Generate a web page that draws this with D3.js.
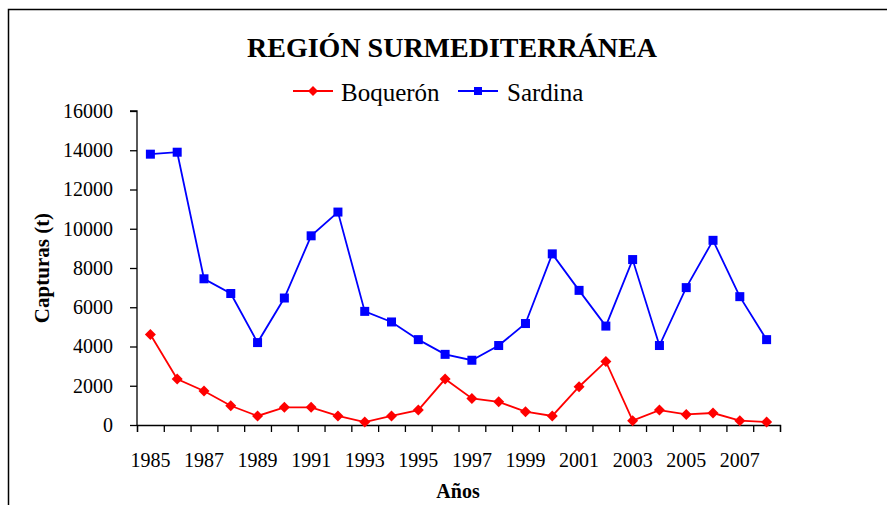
<!DOCTYPE html>
<html>
<head>
<meta charset="utf-8">
<script src="https://cdn.jsdelivr.net/npm/d3@7"></script>
<style>
  html, body { margin: 0; padding: 0; background: #fff; }
  svg { display: block; }
  text { font-family: "Liberation Serif", "Times New Roman", serif; fill: #000; }
</style>
</head>
<body>
<svg id="chart" width="887" height="505"></svg>
<script>
const years = [1985, 1986, 1987, 1988, 1989, 1990, 1991, 1992, 1993, 1994, 1995, 1996,
               1997, 1998, 1999, 2000, 2001, 2002, 2003, 2004, 2005, 2006, 2007, 2008];
const boqueron = [4610, 2340, 1730, 980, 460, 900, 900, 460, 150, 460, 760, 2340,
                  1350, 1180, 680, 460, 1950, 3240, 220, 760, 540, 610, 220, 150];
const sardina = [13800, 13900, 7450, 6700, 4200, 6470, 9640, 10850, 5790, 5250, 4350, 3600,
                 3300, 4050, 5170, 8720, 6860, 5040, 8430, 4050, 7000, 9410, 6540, 4350];
const yTicks = [0, 2000, 4000, 6000, 8000, 10000, 12000, 14000, 16000];
const xLabelYears = [1985, 1987, 1989, 1991, 1993, 1995, 1997, 1999, 2001, 2003, 2005, 2007];
const seriesNames = ["Boquerón", "Sardina"];
const titleText = "REGIÓN SURMEDITERRÁNEA";
const xTitle = "Años";
const yTitle = "Capturas (t)";

const svg = d3.select("#chart");

// outer frame (extends past the right/bottom edges)
svg.append("rect")
  .attr("x", 8.5).attr("y", 9.5).attr("width", 1000).attr("height", 1000)
  .attr("fill", "none").attr("stroke", "#000").attr("stroke-width", 1.5);

const pLeft = 137, pRight = 780, pTop = 111, pBottom = 425;

const x = d3.scaleBand().domain(years).range([pLeft, pRight]).paddingInner(0).paddingOuter(0);
const xb = d3.scaleLinear().domain([0, years.length]).range([pLeft, pRight]);
const y = d3.scaleLinear().domain([0, 16000]).range([pBottom, pTop]);

// Y axis
const yAxis = svg.append("g")
  .attr("transform", `translate(${pLeft},0)`)
  .call(d3.axisLeft(y).tickValues(yTicks).tickFormat(d3.format("d")).tickSize(7).tickPadding(17));
yAxis.selectAll("text").attr("font-size", 20).attr("font-family", "Liberation Serif");
yAxis.selectAll("line, path").attr("stroke", "#000").attr("stroke-width", 1.3);
yAxis.select(".domain").attr("d", `M-7,${pTop}H0V${pBottom}`);

// X axis boundary ticks
const xTickAxis = svg.append("g")
  .attr("transform", `translate(0,${pBottom})`)
  .call(d3.axisBottom(xb).tickValues(d3.range(0, years.length + 1)).tickFormat("").tickSize(7).tickSizeOuter(7));
xTickAxis.selectAll("line, path").attr("stroke", "#000").attr("stroke-width", 1.3);

// X labels
const xLabAxis = svg.append("g")
  .attr("transform", `translate(0,${pBottom})`)
  .call(d3.axisBottom(x).tickValues(xLabelYears).tickSize(0).tickPadding(28));
xLabAxis.select(".domain").remove();
xLabAxis.selectAll("text").attr("font-size", 20).attr("font-family", "Liberation Serif");

// Lines
const line = d3.line().x((d, i) => x(years[i]) + x.bandwidth() / 2).y(d => y(d));
svg.append("path").datum(boqueron).attr("d", line)
  .attr("fill", "none").attr("stroke", "#ff0000").attr("stroke-width", 1.8);
svg.append("path").datum(sardina).attr("d", line)
  .attr("fill", "none").attr("stroke", "#0000ff").attr("stroke-width", 1.8);

const diamond = r => `M0,${-r}L${r},0L0,${r}L${-r},0Z`;
svg.append("g").selectAll("path").data(boqueron).join("path")
  .attr("transform", (d, i) => `translate(${x(years[i]) + x.bandwidth() / 2},${y(d)})`)
  .attr("d", diamond(5.5)).attr("fill", "#ff0000");
svg.append("g").selectAll("rect").data(sardina).join("rect")
  .attr("x", (d, i) => x(years[i]) + x.bandwidth() / 2 - 4.5)
  .attr("y", d => y(d) - 4.5)
  .attr("width", 9).attr("height", 9).attr("fill", "#0000ff");

// Title
svg.append("text").attr("x", 452).attr("y", 57).attr("text-anchor", "middle")
  .attr("font-size", 28).attr("font-weight", "bold").text(titleText);

// Legend
const lg = svg.append("g");
lg.append("line").attr("x1", 293).attr("x2", 333).attr("y1", 91).attr("y2", 91)
  .attr("stroke", "#ff0000").attr("stroke-width", 1.8);
lg.append("path").attr("transform", "translate(313,91)").attr("d", diamond(5)).attr("fill", "#ff0000");
lg.append("text").attr("x", 341).attr("y", 101).attr("font-size", 25).text(seriesNames[0]);
lg.append("line").attr("x1", 458).attr("x2", 498).attr("y1", 91).attr("y2", 91)
  .attr("stroke", "#0000ff").attr("stroke-width", 1.8);
lg.append("rect").attr("x", 474).attr("y", 87).attr("width", 8).attr("height", 8).attr("fill", "#0000ff");
lg.append("text").attr("x", 507).attr("y", 101).attr("font-size", 25).text(seriesNames[1]);

// Axis titles
svg.append("text").attr("x", 458).attr("y", 498).attr("text-anchor", "middle")
  .attr("font-size", 20).attr("font-weight", "bold").text(xTitle);
svg.append("text").attr("transform", "translate(49,268) rotate(-90)").attr("text-anchor", "middle")
  .attr("font-size", 21).attr("font-weight", "bold").text(yTitle);
</script>
</body>
</html>
